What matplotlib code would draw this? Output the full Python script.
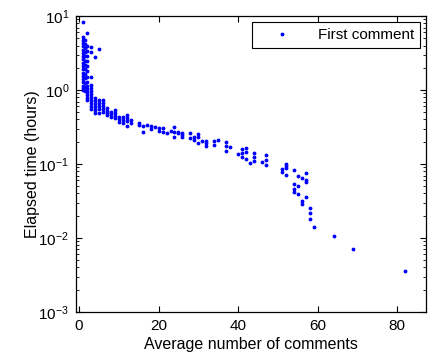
import matplotlib
matplotlib.use("Agg")
import matplotlib.pyplot as plt
import numpy as np

plt.rcParams['font.family'] = ['Liberation Sans', 'DejaVu Sans']
plt.rcParams['mathtext.fontset'] = 'custom'
plt.rcParams['mathtext.rm'] = 'Liberation Sans'
plt.rcParams['mathtext.it'] = 'Liberation Sans:italic'

# average number of comments (one entry per column of points)
avg_comments = [1.1, 2.1, 1.1, 1.5, 2.1, 3.1, 4.1, 5.0, 6, 7, 8, 9, 10, 11, 12, 13,
                15, 16, 17, 18, 19, 20, 21, 22, 23, 24, 25, 26, 28, 29, 30, 31,
                32, 34, 35, 37, 38, 40, 41, 42, 43, 44, 46, 47, 51, 52, 54, 55,
                56, 57, 58, 59, 64, 69, 82]

# elapsed time (hours) of the points at each x above
elapsed_hours = [
    [8.4],
    [5.9],
    [5.2, 4.7, 4.3, 3.9, 3.5, 3.2, 2.9, 2.6, 2.35, 2.1, 1.9, 1.7, 1.55, 1.4, 1.27, 1.15, 1.05, 1.0],
    [4.8, 4.2, 3.7, 3.3, 2.9, 2.5, 2.2, 1.9, 1.65, 1.45, 1.25, 1.1, 0.98],
    [4.0, 3.4, 2.9, 2.5, 2.1, 1.8, 1.5, 1.3, 1.15, 1.03, 0.94, 0.86, 0.78, 0.73],
    [3.8, 3.3, 1.5, 1.17, 1.07, 0.97, 0.88, 0.81, 0.73, 0.67, 0.61, 0.56],
    [2.8, 0.78, 0.71, 0.65, 0.59, 0.54, 0.49],
    [3.55, 0.73, 0.67, 0.61, 0.55, 0.49],
    [0.73, 0.67, 0.61, 0.55, 0.5],
    [0.57, 0.52, 0.49, 0.46],
    [0.5, 0.47, 0.43],
    [0.54, 0.49, 0.45, 0.42],
    [0.43, 0.4, 0.37],
    [0.43, 0.39, 0.36],
    [0.46, 0.42, 0.38, 0.33],
    [0.39, 0.36],
    [0.36, 0.34],
    [0.33, 0.27],
    [0.34],
    [0.33, 0.30],
    [0.32],
    [0.31, 0.28],
    [0.31, 0.27],
    [0.26],
    [0.28],
    [0.32, 0.27, 0.23],
    [0.27, 0.26],
    [0.265, 0.246, 0.229],
    [0.262, 0.225],
    [0.232, 0.211],
    [0.254, 0.232, 0.192],
    [0.205],
    [0.205, 0.19, 0.175],
    [0.205, 0.181],
    [0.211],
    [0.2, 0.175, 0.15],
    [0.168],
    [0.136],
    [0.159, 0.141, 0.126],
    [0.164, 0.145, 0.117],
    [0.104],
    [0.141, 0.123, 0.111],
    [0.107],
    [0.132, 0.115, 0.097],
    [0.0855, 0.078],
    [0.1, 0.094, 0.089, 0.0716],
    [0.0822, 0.0537, 0.0459, 0.0423],
    [0.0683, 0.05, 0.0393],
    [0.0641, 0.0319, 0.0285],
    [0.0748, 0.0608, 0.0571, 0.0355],
    [0.0252, 0.0216, 0.0179],
    [0.0142],
    [0.0106],
    [0.0072],
    [0.0036],
]

x = np.concatenate([[c] * len(ys) for c, ys in zip(avg_comments, elapsed_hours)])
y = np.concatenate(elapsed_hours)

fig = plt.figure(figsize=(4.3, 3.57), dpi=100)
ax = fig.add_axes([0.177, 0.126, 0.814, 0.829])

ax.plot(x, y, '.', color='blue', markersize=3.5, label='First comment')

ax.set_yscale('log')
ax.set_ylim(1e-3, 1e1)
ax.set_xlim(-0.75, 87.3)
ax.set_xticks([0, 20, 40, 60, 80])

ax.set_xlabel('Average number of comments', fontsize=11.5, labelpad=3)
ax.set_ylabel('Elapsed time (hours)', fontsize=11.5, labelpad=-1)

ax.tick_params(which='both', direction='in', top=True, right=True, labelsize=11)
ax.tick_params(which='major', length=4, pad=5)
ax.tick_params(which='minor', length=2)
for s in ax.spines.values():
    s.set_linewidth(0.9)

leg = ax.legend(loc='upper right', fontsize=11, fancybox=False, framealpha=1,
                edgecolor='black', handlelength=3.1, borderaxespad=0.4)
leg.get_frame().set_linewidth(0.8)

fig.savefig('out.png', dpi=100)
